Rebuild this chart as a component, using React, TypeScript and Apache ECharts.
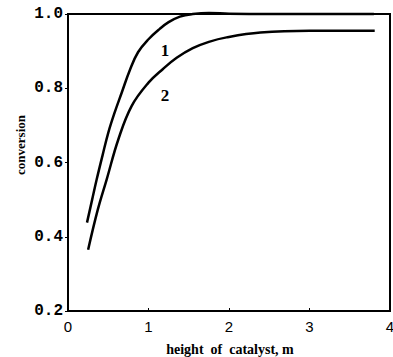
import React, { useEffect, useRef } from "react";
import * as echarts from "echarts";

const xTicks = ["0", "1", "2", "3", "4"];
const yTicks = ["0.2", "0.4", "0.6", "0.8", "1.0"];
const curve1: [number, number][] = [
  [0.236, 0.438], [0.3, 0.5], [0.356, 0.554], [0.43, 0.62], [0.5, 0.68],
  [0.58, 0.735], [0.667, 0.788], [0.77, 0.85], [0.87, 0.897], [1.0, 0.932],
  [1.14, 0.96], [1.25, 0.978], [1.39, 0.993], [1.55, 1.0], [1.75, 1.003],
  [2.0, 1.001], [2.5, 1.0], [3.0, 1.0], [3.5, 1.0], [3.8, 1.0],
];
const curve2: [number, number][] = [
  [0.25, 0.365], [0.37, 0.473], [0.48, 0.554], [0.625, 0.662], [0.79, 0.752],
  [1.0, 0.815], [1.18, 0.852], [1.35, 0.882], [1.55, 0.908], [1.75, 0.925],
  [1.97, 0.937], [2.39, 0.95], [3.0, 0.955], [3.81, 0.955],
];
const curveLabels = ["1", "2"];
const xName = "height  of  catalyst, m";
const yName = "conversion";

export default function App() {
  const ref = useRef<HTMLDivElement>(null);
  useEffect(() => {
    const chart = echarts.init(ref.current!, null, { renderer: "svg" });
    const serif = "'Liberation Serif', 'DejaVu Serif', serif";
    chart.setOption({
      animation: false,
      backgroundColor: "#fff",
      grid: {
        left: 68, right: 3, top: 14, bottom: 46,
        outerBoundsMode: "none", containLabel: false,
        show: true, borderColor: "#000", borderWidth: 2,
      },
      xAxis: {
        type: "value", min: 0, max: 4, interval: 1,
        axisLine: { show: true, onZero: false, lineStyle: { color: "#000", width: 2 } },
        axisTick: { show: true, inside: true, length: 3, lineStyle: { color: "#000" } },
        splitLine: { show: false },
        axisLabel: {
          color: "#000", fontSize: 15, fontFamily: "'Liberation Sans', sans-serif", margin: 8,
          formatter: (v: number) => xTicks[Math.round(v)] ?? "",
        },
      },
      yAxis: {
        type: "value", min: 0.2, max: 1.0, interval: 0.2,
        axisLine: { show: true, onZero: false, lineStyle: { color: "#000", width: 2 } },
        axisTick: { show: true, inside: false, length: 3, lineStyle: { color: "#000" } },
        splitLine: { show: false },
        axisLabel: {
          color: "#000", fontSize: 16, fontWeight: "bold", fontFamily: "'Liberation Mono', monospace", margin: 5,
          formatter: (v: number) => yTicks[Math.round((v - 0.2) / 0.2)] ?? "",
        },
      },
      graphic: [
        { type: "text", x: 230, y: 349, style: { text: xName, font: `bold 14px ${serif}`, fill: "#000", align: "center", verticalAlign: "middle" } },
        { type: "text", x: 20, y: 145, rotation: Math.PI / 2, style: { text: yName, font: `bold 13px ${serif}`, fill: "#000", align: "center", verticalAlign: "middle" } },
        { type: "text", x: 165, y: 50, style: { text: curveLabels[0], font: `bold 17px ${serif}`, fill: "#000", align: "center", verticalAlign: "middle" } },
        { type: "text", x: 165, y: 95, style: { text: curveLabels[1], font: `bold 17px ${serif}`, fill: "#000", align: "center", verticalAlign: "middle" } },
      ],
      series: [
        { type: "line", data: curve1, smooth: 0.4, showSymbol: false, clip: false, lineStyle: { color: "#000", width: 2.5 } },
        { type: "line", data: curve2, smooth: 0.4, showSymbol: false, clip: false, lineStyle: { color: "#000", width: 2.5 } },
      ],
    });
    return () => chart.dispose();
  }, []);
  return <div ref={ref} style={{ position: "fixed", left: 0, top: 0, width: 393, height: 357 }} />;
}
